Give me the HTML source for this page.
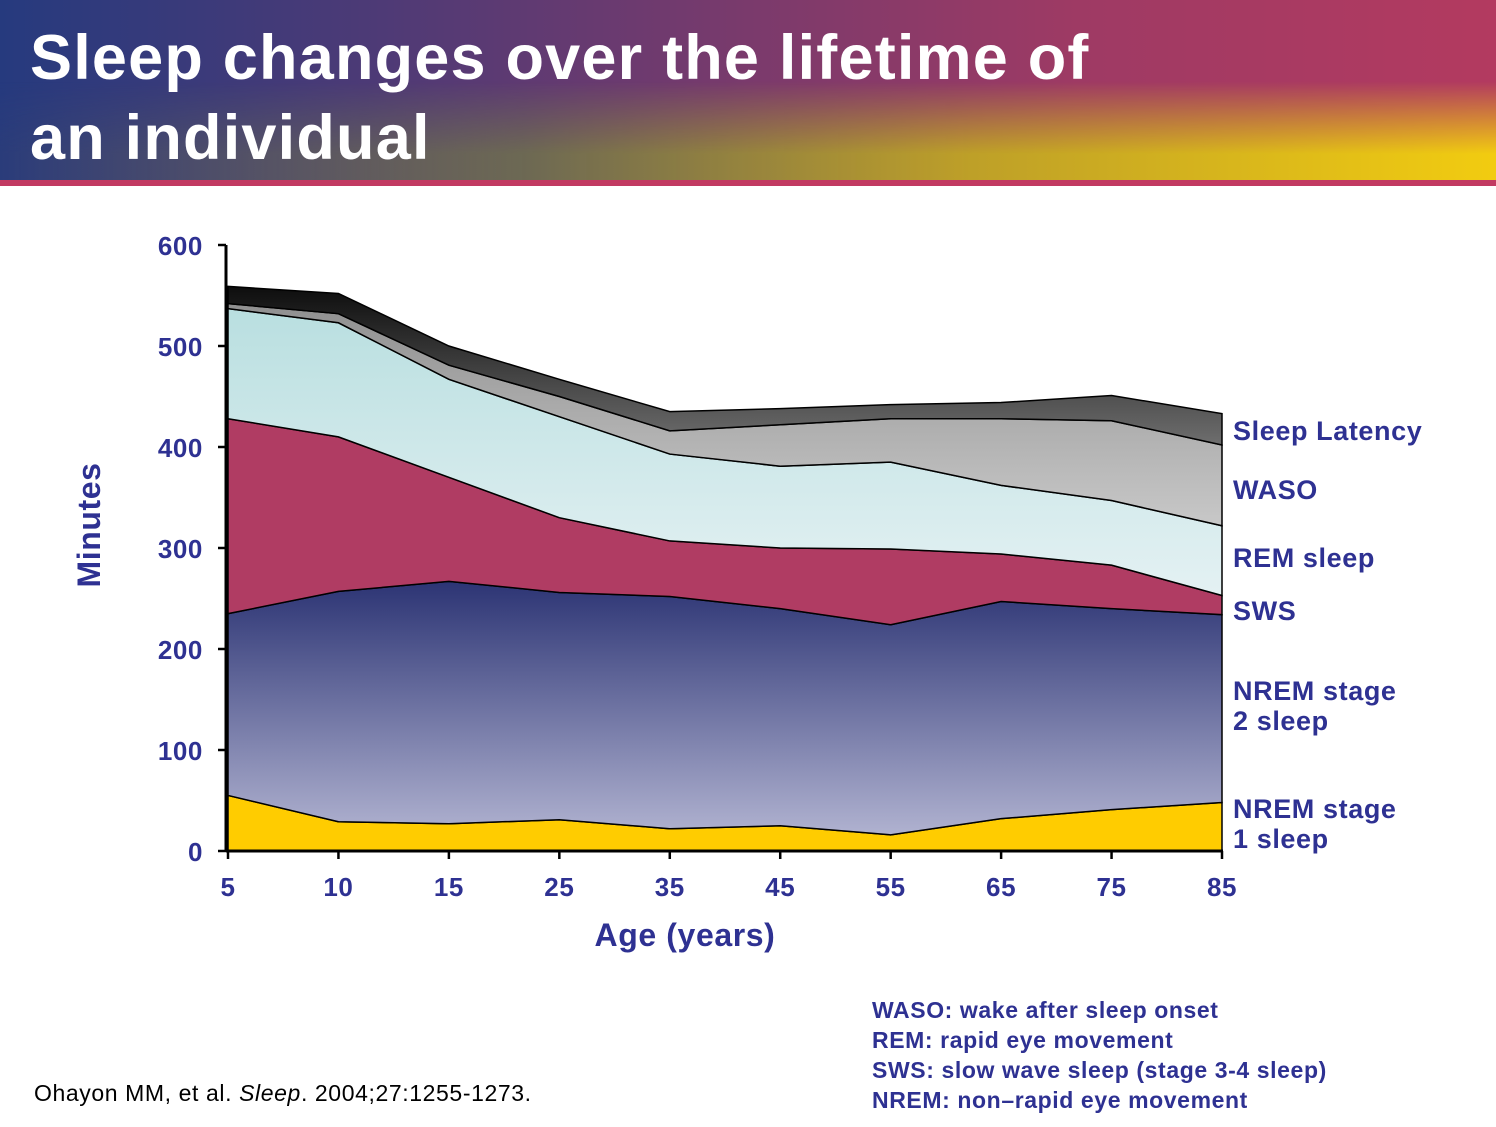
<!DOCTYPE html>
<html><head><meta charset="utf-8">
<style>
body{margin:0;width:1496px;height:1127px;background:#fff;position:relative;overflow:hidden;font-family:"Liberation Sans",Arial,sans-serif}
#hdr{position:absolute;left:0;top:0;width:1496px;height:181px;background:linear-gradient(to right,#263a7e 0%,#4d3a76 25%,#7a3a6c 50%,#9e3a64 72%,#b33a60 100%)}
#hdr2{position:absolute;left:0;top:0;width:1496px;height:181px;background:linear-gradient(to right,rgba(60,70,110,0.2) 0%,rgba(110,110,80,0.9) 35%,rgba(190,160,40,1) 65%,rgba(242,204,16,1) 100%);-webkit-mask-image:linear-gradient(to bottom,transparent 45%,#000 85%);mask-image:linear-gradient(to bottom,transparent 45%,#000 85%)}
#bar{position:absolute;left:0;top:180px;width:1496px;height:6px;background:#c23a62}
#title{position:absolute;left:30px;top:18px;color:#fff;font-weight:bold;font-size:63px;line-height:80px;letter-spacing:1.2px}
.b{color:#2e3192;font-weight:bold}
</style></head><body>
<div id="hdr"></div>
<div id="hdr2"></div>
<div id="bar"></div>
<div id="title">Sleep changes over the lifetime of<br>an individual</div>
<svg id="chart" width="1496" height="1127" style="position:absolute;left:0;top:0">
<defs>
<linearGradient id="gN2" x1="0" y1="0" x2="0" y2="1"><stop offset="0" stop-color="#2c3474"/><stop offset="1" stop-color="#b0b2d0"/></linearGradient>
<linearGradient id="gREM" x1="0" y1="0" x2="0" y2="1"><stop offset="0" stop-color="#b9dfe0"/><stop offset="1" stop-color="#e4f1f3"/></linearGradient>
<linearGradient id="gW" x1="0" y1="0" x2="0" y2="1"><stop offset="0" stop-color="#909090"/><stop offset="1" stop-color="#c8c8c8"/></linearGradient>
<linearGradient id="gL" x1="0" y1="0" x2="0" y2="1"><stop offset="0" stop-color="#0d0d0d"/><stop offset="1" stop-color="#6e6e6e"/></linearGradient>
</defs>
<g id="areas"></g><g id="axes"></g>
</svg>
<div class="b" style="position:absolute;left:872px;top:995px;font-size:23px;line-height:30px;letter-spacing:0.6px;white-space:nowrap">WASO: wake after sleep onset<br>REM: rapid eye movement<br>SWS: slow wave sleep (stage 3-4 sleep)<br>NREM: non–rapid eye movement</div>
<div style="position:absolute;left:34px;top:1080px;font-size:23px;letter-spacing:0.6px;color:#000;white-space:nowrap">Ohayon MM, et al. <i>Sleep</i>. 2004;27:1255-1273.</div>
<script>
const ages=["5","10","15","25","35","45","55","65","75","85"];
const nrem1=[55,29,27,31,22,25,16,32,41,48];
const nrem2=[180,228,240,225,230,215,208,215,199,186];
const sws=[193,153,103,74,55,60,75,47,43,19];
const rem=[109,113,97,100,86,81,86,68,64,69];
const waso=[5,9,14,20,23,41,43,66,79,80];
const latency=[17,20,19,17,19,16,14,16,25,31];
const yTicks=[0,100,200,300,400,500,600];
const series=[nrem1,nrem2,sws,rem,waso,latency];
const fills=["#ffcc00","url(#gN2)","#b03c63","url(#gREM)","url(#gW)","url(#gL)"];
const names=["nrem1-area","nrem2-area","sws-area","rem-area","waso-area","latency-area"];
const labels=[["NREM stage","1 sleep"],["NREM stage","2 sleep"],["SWS"],["REM sleep"],["WASO"],["Sleep Latency"]];
const labelY=[[818,848],[700,730],620,567,499,440];
const X0=228,X1=1222,Y0=851,PY=606/600;
const x=i=>X0+i*(X1-X0)/(ages.length-1);
const y=v=>Y0-v*PY;
const NS="http://www.w3.org/2000/svg";
const A=document.getElementById('areas'),G=document.getElementById('axes');
let base=ages.map(()=>0);
series.forEach((s,k)=>{
  const top=base.map((b,i)=>b+s[i]);
  let d="M"+top.map((v,i)=>x(i)+","+y(v)).join("L");
  for(let i=ages.length-1;i>=0;i--)d+="L"+x(i)+","+y(base[i]);
  const p=document.createElementNS(NS,'path');
  p.setAttribute('d',d+"Z");p.setAttribute('fill',fills[k]);p.setAttribute('stroke','#000');p.setAttribute('stroke-width','1.5');
  
  
  A.appendChild(p);
  base=top;
});
function ln(x1,y1,x2,y2,w){const l=document.createElementNS(NS,'line');l.setAttribute('x1',x1);l.setAttribute('y1',y1);l.setAttribute('x2',x2);l.setAttribute('y2',y2);l.setAttribute('stroke','#000');l.setAttribute('stroke-width',w);G.appendChild(l);return l;}
function tx(t,xx,yy,anchor,size,name){const e=document.createElementNS(NS,'text');e.textContent=t;e.setAttribute('x',xx);e.setAttribute('y',yy);e.setAttribute('text-anchor',anchor);e.setAttribute('font-size',size);e.setAttribute('font-weight','bold');e.setAttribute('fill','#2e3192');e.setAttribute('letter-spacing','0.6');e.setAttribute('font-family','Liberation Sans, Arial, sans-serif');


G.appendChild(e);return e;}
const ya=ln(226,y(600),226,Y0+1,3);


const xa=ln(226,Y0,X1+1,Y0,3);


yTicks.forEach(v=>{ln(218,y(v),226,y(v),2.5);tx(String(v),203,y(v)+10,'end',26,'y-tick-label');});
ages.forEach((a,i)=>{ln(x(i),Y0,x(i),Y0+8,2.5);tx(a,x(i),896,'middle',26,'x-tick-label');});
tx('Age (years)',685,946,'middle',32,'x-axis-title');
const yt=tx('Minutes',100,525,'middle',32,'y-axis-title');yt.setAttribute('transform','rotate(-90 100 525)');
labels.forEach((l,k)=>{const ys=labelY[k];if(l.length===2){tx(l[0],1233,ys[0],'start',27,'series-label');tx(l[1],1233,ys[1],'start',27,'series-label');}else tx(l[0],1233,ys,'start',27,'series-label');});
</script>
</body></html>
